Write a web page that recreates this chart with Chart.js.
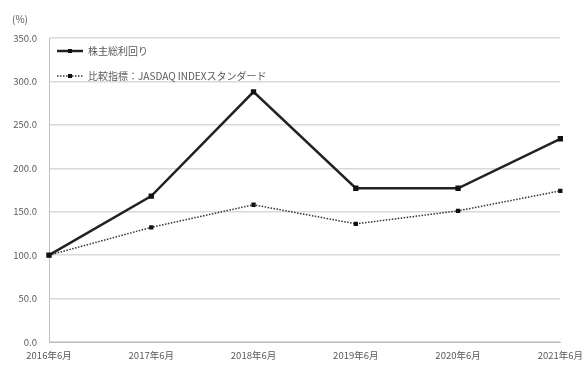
<!DOCTYPE html>
<html>
<head>
<meta charset="utf-8">
<script src="https://cdn.jsdelivr.net/npm/chart.js@4"></script>
<style>
  html, body { margin: 0; padding: 0; background: #fff; }
</style>
</head>
<body>
<canvas id="tsr" width="587" height="365"></canvas>
<script>
const labels = ['2016年6月', '2017年6月', '2018年6月', '2019年6月', '2020年6月', '2021年6月'];
const tsrValues = [100, 168, 288, 177, 177, 234];
const indexValues = [100, 132, 158, 136, 151, 174];
const seriesNames = ['株主総利回り', '比較指標：JASDAQ INDEXスタンダード'];

const FONT = "'Noto Sans CJK JP', 'Noto Sans', sans-serif";

// legend drawn inside the plot, like the original
const insideLegend = {
    id: 'insideLegend',
    afterDraw(chart) {
        const ctx = chart.ctx;
        const rows = [
            { y: 51, dash: [], width: 2.5, color: '#222' },
            { y: 76, dash: [1.5, 1.5], width: 1.5, color: '#333' }
        ];
        ctx.save();
        rows.forEach((r, i) => {
            ctx.strokeStyle = r.color;
            ctx.lineWidth = r.width;
            ctx.setLineDash(r.dash);
            ctx.beginPath();
            ctx.moveTo(57, r.y);
            ctx.lineTo(83, r.y);
            ctx.stroke();
            ctx.setLineDash([]);
            ctx.fillStyle = '#111';
            ctx.fillRect(68, r.y - 2, 4, 4);
            ctx.fillStyle = '#595959';
            ctx.font = '10px ' + FONT;
            ctx.textBaseline = 'middle';
            ctx.fillText(seriesNames[i], 88, r.y);
        });
        ctx.font = '10px ' + FONT;
        ctx.fillStyle = '#595959';
        ctx.fillText('(%)', 12, 19);
        ctx.restore();
    }
};

new Chart(document.getElementById('tsr').getContext('2d'), {
    type: 'line',
    data: {
        labels: labels,
        datasets: [{
            label: seriesNames[0],
            data: tsrValues,
            borderColor: '#222',
            borderWidth: 2.5,
            pointStyle: 'rect',
            pointRadius: 2,
            pointBackgroundColor: '#111',
            pointBorderColor: '#111',
            tension: 0
        }, {
            label: seriesNames[1],
            data: indexValues,
            borderColor: '#333',
            borderWidth: 1.5,
            borderDash: [1.5, 1.5],
            pointStyle: 'rect',
            pointRadius: 2,
            pointBackgroundColor: '#111',
            pointBorderColor: '#111',
            tension: 0
        }]
    },
    options: {
        responsive: false,
        animation: false,
        layout: { padding: { top: 38, right: 24, left: 0, bottom: 0 } },
        plugins: {
            legend: { display: false },
            tooltip: { enabled: false }
        },
        scales: {
            x: {
                offset: false,
                grid: { display: false, drawTicks: true, tickLength: 4, color: '#bfbfbf' },
                border: { color: '#bfbfbf' },
                ticks: { color: '#595959', font: { size: 9.5, family: FONT }, maxRotation: 0, padding: 4 },
                afterFit(axis) { axis.height = 23; }
            },
            y: {
                min: 0,
                max: 350,
                grid: { color: '#d9d9d9', lineWidth: 1.5, drawTicks: false },
                border: { display: true, color: '#bfbfbf' },
                ticks: {
                    stepSize: 50,
                    color: '#595959',
                    font: { size: 9.5, family: FONT },
                    padding: 12,
                    callback: v => v.toFixed(1)
                },
                afterFit(axis) { axis.width = 49; }
            }
        }
    },
    plugins: [insideLegend]
});
</script>
</body>
</html>
